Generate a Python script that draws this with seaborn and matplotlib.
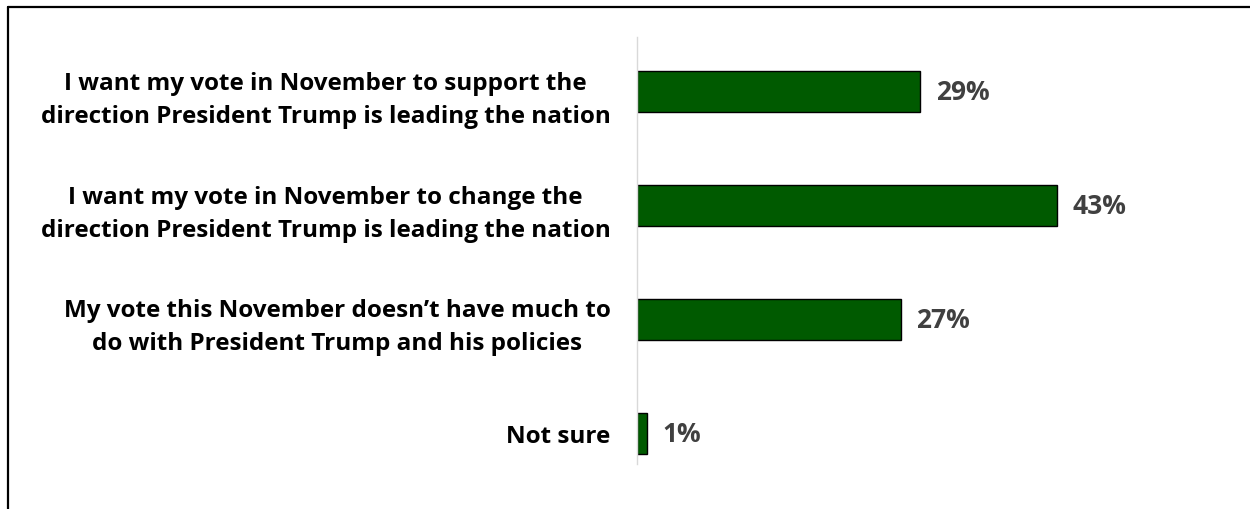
import matplotlib
matplotlib.use("Agg")
import matplotlib.pyplot as plt
import seaborn as sns
import pandas as pd
from matplotlib.lines import Line2D

# Chart data
answers = [
    "I want my vote in November to support the\ndirection President Trump is leading the nation",
    "I want my vote in November to change the\ndirection President Trump is leading the nation",
    "My vote this November doesn\u2019t have much to\ndo with President Trump and his policies",
    "Not sure",
]
shares = [29, 43, 27, 1]
value_labels = ["29%", "43%", "27%", "1%"]

df = pd.DataFrame({"answer": answers, "share": shares})

sns.set_style("white")
plt.rcParams["font.family"] = ["Open Sans", "DejaVu Sans"]

fig = plt.figure(figsize=(12.5, 5.1), dpi=100)
ax = fig.add_axes([637 / 1250, 1 - 465 / 510, (1240 - 637) / 1250, (465 - 38) / 510])

sns.barplot(data=df, x="share", y="answer", orient="h", color="#005A00",
            saturation=1, edgecolor="black", linewidth=1, width=0.36, ax=ax)

ax.set_xlim(0, 61.7)
ax.set_ylim(3.27, -0.48)
ax.set_xlabel("")
ax.set_ylabel("")
ax.set_xticks([])

for s in ["top", "right", "bottom"]:
    ax.spines[s].set_visible(False)
ax.spines["left"].set_color("#D9D9D9")
ax.spines["left"].set_linewidth(1)

ax.tick_params(axis="y", length=0, pad=19)
for lbl in ax.get_yticklabels():
    lbl.set_fontsize(17.5)
    lbl.set_fontweight("bold")
    lbl.set_color("black")
    lbl.set_multialignment("center")
    lbl.set_linespacing(1.5)

ax.bar_label(ax.containers[0], labels=value_labels, padding=11,
             fontsize=19, fontweight="bold", color="#404040")

# outer frame (left and top edges of slide box)
fig.add_artist(Line2D([8 / 1250, 8 / 1250], [0, 1 - 8 / 510], color="black", lw=1.6))
fig.add_artist(Line2D([8 / 1250, 1], [1 - 8 / 510, 1 - 8 / 510], color="black", lw=1.6))

fig.savefig("out.png", dpi=100)
